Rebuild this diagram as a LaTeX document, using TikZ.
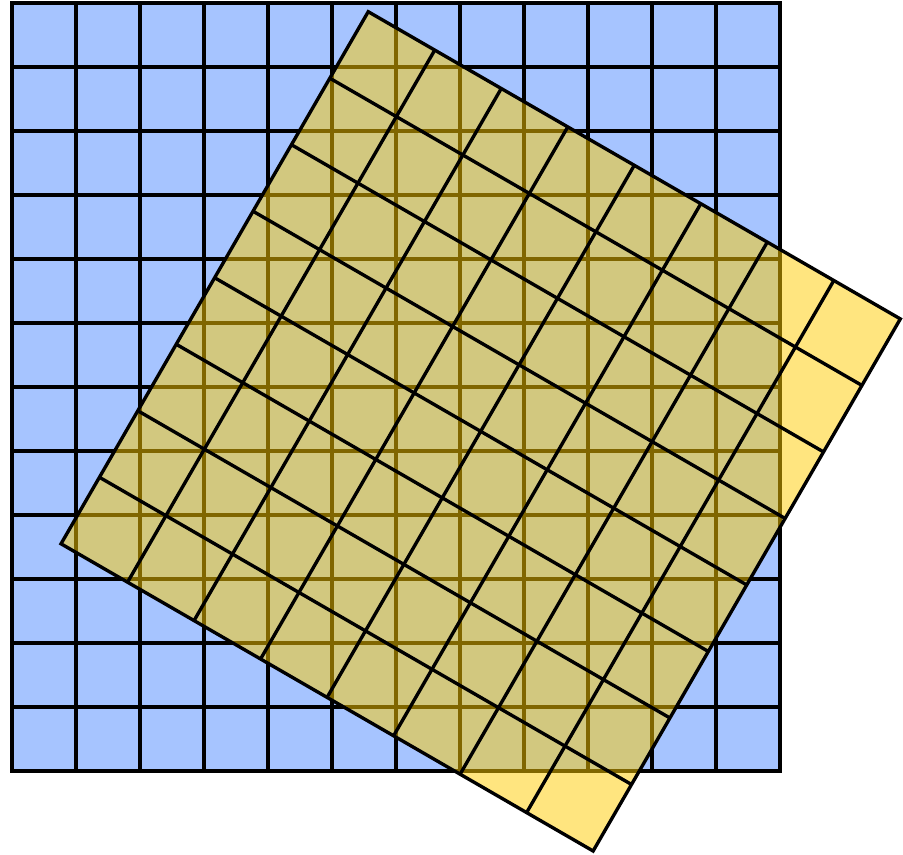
\documentclass[tikz,border=0pt]{standalone}
\definecolor{gridblue}{RGB}{166,196,255}
\definecolor{gridgold}{RGB}{255,204,0}
\tikzset{
  gridline/.style={draw=black, line width=1.5pt},
  bluefill/.style={fill=gridblue},
  goldfill/.style={fill=gridgold, fill opacity=0.5}
}
\begin{document}
\begin{tikzpicture}
\useasboundingbox (-0.1875,-1.297) rectangle (13.922,12.047);
% blue grid
\fill[bluefill] (0,0) rectangle (12,12);
\foreach \i in {1,...,11} {
  \draw[gridline] (\i,0) -- (\i,12);
  \draw[gridline] (0,\i) -- (12,\i);
}
\draw[gridline] (0,0) rectangle (12,12);
% rotated gold grid
\begin{scope}[shift={(9.08,-1.25)}, rotate=60]
  \fill[goldfill] (0,0) rectangle (9.6,9.6);
  \foreach \i in {1,...,7} {
    \draw[gridline] (1.2*\i,0) -- (1.2*\i,9.6);
    \draw[gridline] (0,1.2*\i) -- (9.6,1.2*\i);
  }
  \draw[gridline] (0,0) rectangle (9.6,9.6);
\end{scope}
\end{tikzpicture}
\end{document}
